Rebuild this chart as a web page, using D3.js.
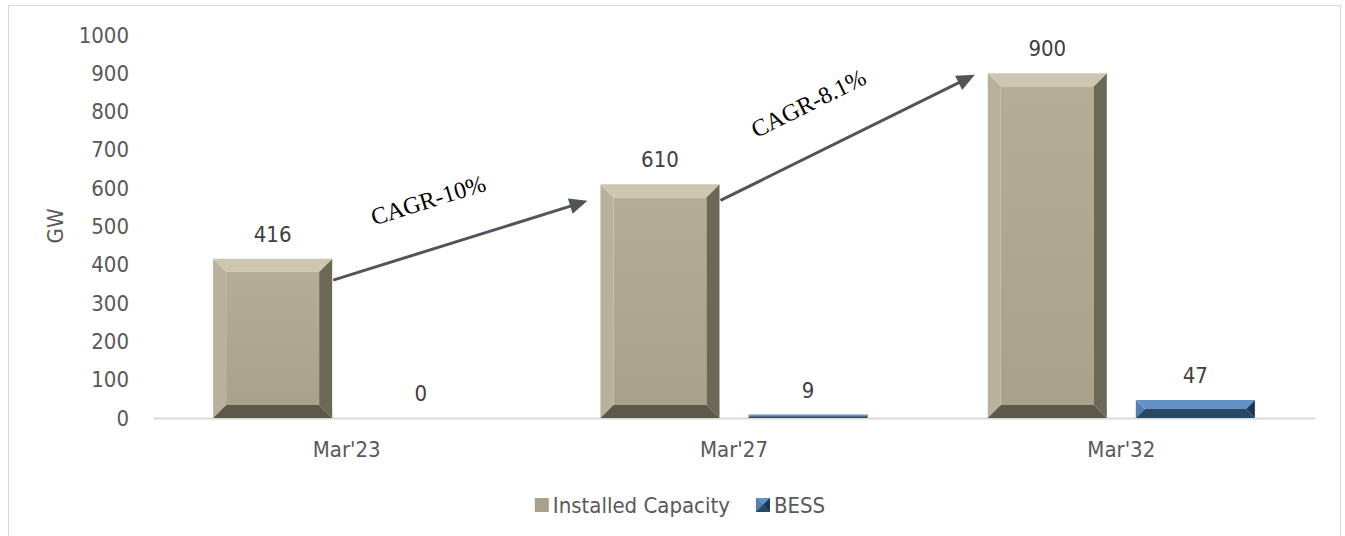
<!DOCTYPE html>
<html>
<head>
<meta charset="utf-8">
<script src="https://cdn.jsdelivr.net/npm/d3@7/dist/d3.min.js"></script>
<style>
  html, body { margin: 0; padding: 0; background: #ffffff; }
  svg { display: block; }
  .sans { font-family: "DejaVu Sans Condensed", "DejaVu Sans", sans-serif; font-stretch: condensed; }
</style>
</head>
<body>
<svg id="chart" width="1345" height="536"></svg>
<script>
// Installed capacity vs. battery storage (BESS), in GW
const categories = ["Mar'23", "Mar'27", "Mar'32"];
const seriesNames = ["Installed Capacity", "BESS"];
const installedCapacity = [416, 610, 900];
const bess = [0, 9, 47];
const yTicks = [0, 100, 200, 300, 400, 500, 600, 700, 800, 900, 1000];
const yLabel = "GW";

// Growth arrows between consecutive periods (values in GW at each end)
const cagrLabels = ["CAGR-10%", "CAGR-8.1%"];
const arrowStartValues = [360, 568];
const arrowEndValues = [567, 896];

const palette = {
  "Installed Capacity": { top: "#cdc7b2", left: "#b8b29d", faceTop: "#b4ae99", faceBottom: "#a8a28d", right: "#6c6856", bottom: "#5d594a" },
  "BESS": { top: "#6392c4", left: "#5080b2", faceTop: "#4f7fb1", faceBottom: "#3f6994", right: "#20364d", bottom: "#2a4663" }
};

const svg = d3.select("#chart");
const fontStack = "\"DejaVu Sans Condensed\", \"DejaVu Sans\", sans-serif";

// chart frame
svg.append("rect")
  .attr("x", 8.5).attr("y", 5.5)
  .attr("width", 1332).attr("height", 540)
  .attr("fill", "#ffffff").attr("stroke", "#d9d9d9").attr("stroke-width", 1);

const x = d3.scaleBand().domain(categories).range([153, 1315]).padding(0);
const xs = d3.scaleBand().domain(seriesNames).range([0, x.bandwidth()])
  .paddingInner(0.196).paddingOuter(0.406);
const y = d3.scaleLinear().domain([0, 1000]).range([418, 35]);

const textColor = "#595959";

// gradients for bar faces
const defs = svg.append("defs");
seriesNames.forEach((s, i) => {
  const g = defs.append("linearGradient").attr("id", "face" + i)
    .attr("x1", 0).attr("y1", 0).attr("x2", 0).attr("y2", 1);
  g.append("stop").attr("offset", "0%").attr("stop-color", palette[s].faceTop);
  g.append("stop").attr("offset", "100%").attr("stop-color", palette[s].faceBottom);
});
const blur = defs.append("filter").attr("id", "soft")
  .attr("x", "-5%").attr("y", "-5%").attr("width", "110%").attr("height", "110%");
blur.append("feGaussianBlur").attr("stdDeviation", 0.7);

// y axis
const yAxis = svg.append("g")
  .attr("transform", "translate(137,0)")
  .call(d3.axisLeft(y).tickValues(yTicks).tickFormat(d3.format("d")).tickSize(0).tickPadding(8));
yAxis.select(".domain").remove();
yAxis.selectAll("text")
  .attr("font-size", 22).attr("fill", textColor)
  .style("font-family", fontStack);

svg.append("text")
  .attr("transform", "translate(63,226) rotate(-90)")
  .attr("text-anchor", "middle")
  .style("font-family", fontStack)
  .attr("font-size", 22).attr("fill", textColor)
  .text(yLabel);

// x axis (its domain line is the baseline)
const xAxis = svg.append("g")
  .attr("transform", `translate(0,${y(0)})`)
  .call(d3.axisBottom(x).tickSize(0).tickSizeOuter(0).tickPadding(23));
xAxis.select(".domain").attr("stroke", "#d9d9d9").attr("stroke-width", 2);
xAxis.selectAll("text")
  .attr("font-size", 22).attr("fill", textColor)
  .style("font-family", fontStack);

// bevelled bar drawing
function bevelBar(g, bx, by, bw, bh, s, idx) {
  if (bh <= 0) return;
  const c = palette[s];
  const b = Math.min(13, bh / 2, bw / 2);
  const pts = a => a.map(p => p.join(",")).join(" ");
  const gg = g.append("g").attr("filter", "url(#soft)");
  gg.append("rect").attr("x", bx + b).attr("y", by + b)
    .attr("width", Math.max(0, bw - 2 * b)).attr("height", Math.max(0, bh - 2 * b))
    .attr("fill", `url(#face${idx})`);
  gg.append("polygon").attr("fill", c.left)
    .attr("points", pts([[bx, by], [bx + b, by + b], [bx + b, by + bh - b], [bx, by + bh]]));
  gg.append("polygon").attr("fill", c.right)
    .attr("points", pts([[bx + bw, by], [bx + bw - b, by + b], [bx + bw - b, by + bh - b], [bx + bw, by + bh]]));
  gg.append("polygon").attr("fill", c.top)
    .attr("points", pts([[bx, by], [bx + bw, by], [bx + bw - b, by + b], [bx + b, by + b]]));
  gg.append("polygon").attr("fill", c.bottom)
    .attr("points", pts([[bx, by + bh], [bx + bw, by + bh], [bx + bw - b, by + bh - b], [bx + b, by + bh - b]]));
}

const series = [installedCapacity, bess];
const barsG = svg.append("g");
const labelsG = svg.append("g");
series.forEach((vals, si) => {
  const s = seriesNames[si];
  categories.forEach((cat, ci) => {
    const v = vals[ci];
    const bx = x(cat) + xs(s);
    const bw = xs.bandwidth();
    const top = y(v);
    bevelBar(barsG, bx, top, bw, y(0) - top, s, si);
    labelsG.append("text")
      .attr("x", bx + bw / 2)
      .attr("y", top - 17)
      .attr("text-anchor", "middle")
      .style("font-family", fontStack)
      .attr("font-size", 22).attr("fill", "#404040")
      .text(v);
  });
});

// CAGR arrows
const arrowColor = "#4f555b";
const arrowG = svg.append("g");
cagrLabels.forEach((lab, i) => {
  const from = categories[i], to = categories[i + 1];
  const x0 = x(from) + xs(seriesNames[0]) + xs.bandwidth() + 1;
  const x1 = x(to) + xs(seriesNames[0]) - 13;
  const y0 = y(arrowStartValues[i]);
  const y1 = y(arrowEndValues[i]);
  const ang = Math.atan2(y1 - y0, x1 - x0);
  const head = 18, half = 8;
  const ux = Math.cos(ang), uy = Math.sin(ang);
  const bxp = x1 - ux * head, byp = y1 - uy * head;
  arrowG.append("line")
    .attr("x1", x0).attr("y1", y0).attr("x2", bxp + ux * 2).attr("y2", byp + uy * 2)
    .attr("stroke", arrowColor).attr("stroke-width", 3);
  arrowG.append("polygon")
    .attr("fill", arrowColor)
    .attr("points", [
      [x1, y1],
      [bxp - uy * half, byp + ux * half],
      [bxp + uy * half, byp - ux * half]
    ].map(p => p.join(",")).join(" "));
  // label sits above the arrow, parallel to it
  const t = 0.43, off = 40;
  const px = x0 + (x1 - x0) * t, py = y0 + (y1 - y0) * t;
  const nx = uy, ny = -ux; // normal pointing up-left
  const lx = px + nx * off, ly = py + ny * off;
  arrowG.append("text")
    .attr("transform", `translate(${lx},${ly}) rotate(${ang * 180 / Math.PI})`)
    .attr("text-anchor", "middle")
    .attr("font-family", "\"Liberation Serif\", \"Times New Roman\", serif")
    .attr("font-size", 24).attr("fill", "#000000")
    .text(lab);
});

// legend
const legend = svg.append("g");
let lxp = 0;
seriesNames.forEach((s, i) => {
  const it = legend.append("g");
  const sw = 14;
  if (i === 0) {
    it.append("rect").attr("x", 0).attr("y", -7).attr("width", sw).attr("height", sw)
      .attr("fill", palette[s].faceBottom);
  } else {
    const c = palette[s];
    it.append("rect").attr("x", 0).attr("y", -7).attr("width", sw).attr("height", sw).attr("fill", c.faceTop);
    it.append("polygon").attr("fill", c.top).attr("points", "0,-7 14,-7 7,0");
    it.append("polygon").attr("fill", c.left).attr("points", "0,-7 7,0 0,7");
    it.append("polygon").attr("fill", c.right).attr("points", "14,-7 7,0 14,7");
    it.append("polygon").attr("fill", c.bottom).attr("points", "0,7 14,7 7,0");
  }
  const tx = it.append("text").attr("x", sw + 4).attr("y", 8)
    .style("font-family", fontStack)
    .attr("font-size", 22).attr("fill", textColor).text(s);
  const w = sw + 4 + tx.node().getComputedTextLength();
  it.attr("transform", `translate(${lxp},0)`);
  lxp += w + 26;
});
const legendW = lxp - 26;
legend.attr("transform", `translate(${680 - legendW / 2},505)`);
</script>
</body>
</html>
